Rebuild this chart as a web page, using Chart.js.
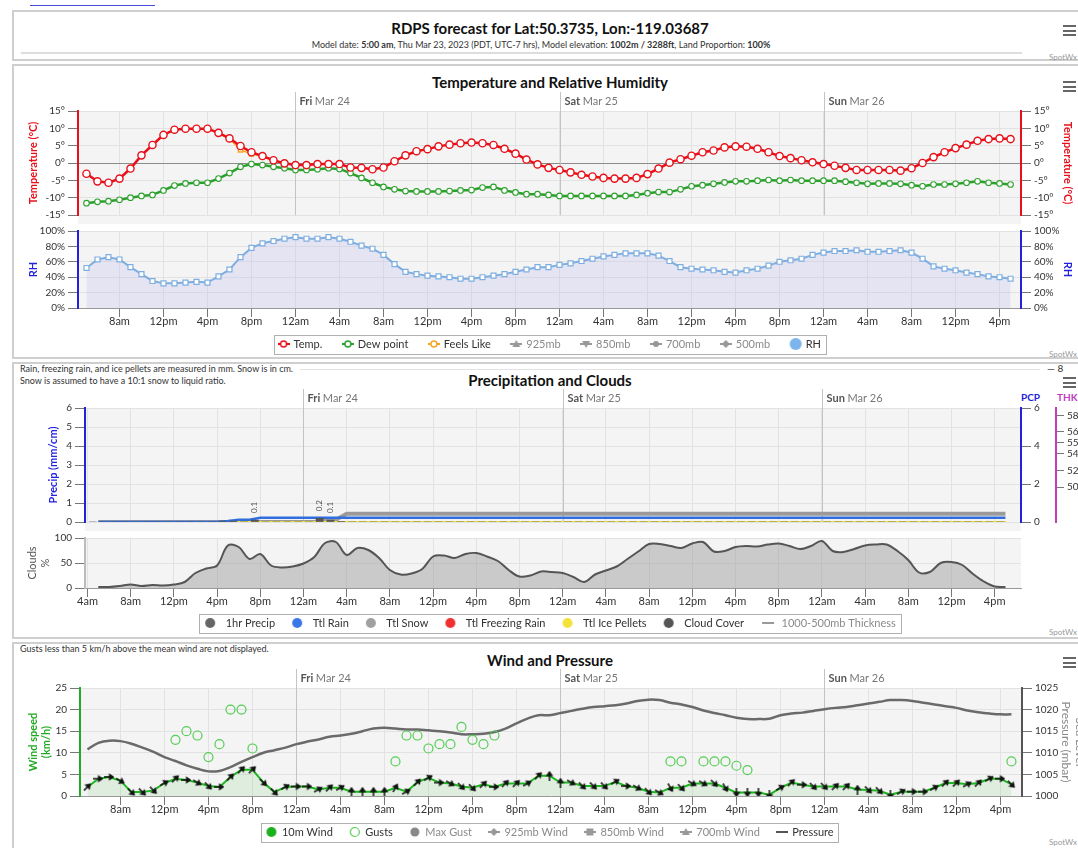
<!DOCTYPE html>
<html>
<head>
<meta charset="utf-8">
<script src="https://cdn.jsdelivr.net/npm/chart.js@4.4.1/dist/chart.umd.min.js"></script>
<style>
body{margin:0;background:#fff;font-family:Lato,"Open Sans",sans-serif;overflow:hidden}
#page{position:relative;width:1078px;height:848px;overflow:hidden}
.panel{position:absolute;left:12px;width:1090px;border:2px solid #cfcfcf;box-sizing:border-box;background:#fff}
canvas{position:absolute;left:0}
.t{position:absolute;white-space:nowrap}
.ttl{left:0;width:1100px;text-align:center;font-weight:bold;font-size:15px;line-height:18px;color:#111}
.menu{position:absolute;left:1063px;width:13px;height:11px;border-top:2px solid #666;border-bottom:2px solid #666;box-sizing:border-box}
.menu:after{content:'';position:absolute;left:0;right:0;top:2.5px;height:2px;background:#666}
.credit{position:absolute;left:1049px;font-size:8px;color:#999}
.note{position:absolute;left:20px;font-size:9px;line-height:11px;color:#333}
</style>
</head>
<body>
<div id="page">
  <div style="position:absolute;left:30px;top:5px;width:125px;height:1px;background:#4a4adf"></div>
  <div class="panel" style="top:10px;height:51px"></div>
  <div class="panel" style="top:64px;height:295px"></div>
  <div class="panel" style="top:362px;height:277px"></div>
  <div class="panel" style="top:642px;height:210px"></div>

  <div class="t ttl" style="top:19px">RDPS forecast for Lat:50.3735, Lon:-119.03687</div>
  <div class="t" style="left:0;width:1082px;text-align:center;top:39px;font-size:9px;line-height:11px;color:#333">Model date: <b>5:00 am</b>, Thu Mar 23, 2023 (PDT, UTC-7 hrs), Model elevation: <b>1002m / 3288ft</b>, Land Proportion: <b>100%</b></div>
  <div style="position:absolute;left:21px;top:52px;width:1001px;height:2px;background:#ddd"></div>
  <div class="menu" style="top:25px"></div>
  <div class="credit" style="top:52px">SpotWx</div>

  <div class="t ttl" style="top:73px">Temperature and Relative Humidity</div>
  <div class="menu" style="top:81px"></div>
  <div class="credit" style="top:349px">SpotWx</div>

  <div class="note" style="top:363px">Rain, freezing rain, and ice pellets are measured in mm. Snow is in cm.</div>
  <div class="note" style="top:375px">Snow is assumed to have a 10:1 snow to liquid ratio.</div>
  <div style="position:absolute;left:300px;top:369px;width:740px;height:1px;background:#e2e2e2"></div>
  <div class="t" style="left:1047px;top:362px;font-size:10px;line-height:12px;color:#333">&#8212; 8</div>
  <div class="t ttl" style="top:371px">Precipitation and Clouds</div>
  <div class="menu" style="top:377px"></div>
  <div class="t" style="left:1021px;top:391px;font-size:10px;line-height:12px;font-weight:bold;color:#2222dd">PCP</div>
  <div class="t" style="left:1057px;top:391px;font-size:10px;line-height:12px;font-weight:bold;color:#c03cc0">THK</div>
  <div class="credit" style="top:627px">SpotWx</div>

  <div class="note" style="top:643px">Gusts less than 5 km/h above the mean wind are not displayed.</div>
  <div class="t ttl" style="top:651px">Wind and Pressure</div>
  <div class="menu" style="top:657px"></div>
  <div class="credit" style="top:837px">SpotWx</div>

  <canvas id="cTemp" width="1100" height="138" style="top:86px"></canvas>
  <canvas id="cRh" width="1100" height="150" style="top:222px"></canvas>
  <canvas id="cPcp" width="1100" height="147" style="top:384px"></canvas>
  <canvas id="cCloud" width="1100" height="119" style="top:528px"></canvas>
  <canvas id="cWind" width="1100" height="192" style="top:664px"></canvas>
</div>
<script>
// hourly steps, 5am Thu Mar 23 to 5pm Sun Mar 26 (PDT)
const tickLabels = ['4am','8am','12pm','4pm','8pm','12am','4am','8am','12pm','4pm','8pm','12am','4am','8am','12pm','4pm','8pm','12am','4am','8am','12pm','4pm'];
const dayNames = ['Fri', 'Sat', 'Sun'];
const dayDates = ['Mar 24', 'Mar 25', 'Mar 26'];
const dayHours = [19, 43, 67];

const temp = [-3.1,-5.3,-5.7,-4.5,-1.6,2.2,5.2,8.1,9.6,9.9, 9.9,9.9,8.7,7.1,4.9,3.1,2.0,0.8,-0.1,-0.6,
  -0.6,-0.3,-0.3,-0.3,-1.3,-1.4,-1.8,-1.3,0.5,2.2, 3.4,4.0,4.8,5.3,5.7,5.9,5.7,5.2,4.1,2.7,
  1.0,-0.4,-1.4,-2.0,-2.7,-3.4,-3.9,-4.3,-4.5,-4.5, -4.3,-3.2,-1.6,0.1,1.1,2.1,3.1,3.6,4.5,4.8,
  4.7,4.1,3.1,2.0,1.4,0.8,0.2,-0.3,-0.8,-1.4, -2.0,-2.0,-2.0,-2.0,-2.2,-1.5,0.0,1.7,3.1,4.3,
  5.3,6.4,6.9,7.1,6.9];
const dewPoint = [-11.6,-11.2,-11.0,-10.6,-10.0,-9.5,-9.2,-7.9,-6.5,-5.9, -5.7,-5.7,-4.5,-2.9,-1.1,-0.3,-0.6,-1.1,-1.5,-2.0,
  -2.0,-1.8,-1.5,-1.7,-2.9,-4.3,-5.7,-6.9,-7.6,-8.1, -8.2,-8.2,-8.2,-8.1,-7.9,-7.8,-7.1,-6.9,-7.9,-8.5,
  -9.0,-9.0,-9.2,-9.5,-9.5,-9.5,-9.5,-9.5,-9.5,-9.5, -9.2,-8.7,-8.4,-8.4,-7.6,-6.7,-6.4,-6.0,-5.6,-5.3,
  -5.3,-5.1,-4.9,-5.1,-4.9,-5.1,-5.1,-5.1,-5.1,-5.4, -5.7,-6.0,-5.9,-5.9,-6.0,-6.4,-6.7,-6.2,-6.2,-6.0,
  -5.7,-5.3,-5.7,-5.9,-6.2];
const feelsLike = [-3.1,-5.3,-5.7,-4.5,-1.6,2.2,5.2,8.1,9.6,9.9, 9.9,9.9,8.7,7.0,3.8,2.6,2.0,0.8,-0.1,-0.6,
  -0.6,-0.3,-0.3,-0.3,-1.3,-1.4,-1.8,-1.3,0.5,2.2, 3.4,4.0,4.8,5.3,5.7,5.9,5.7,5.2,4.1,2.7,
  1.0,-0.4,-1.4,-2.0,-2.7,-3.4,-3.9,-4.3,-4.5,-4.5, -4.3,-3.2,-1.6,0.1,1.1,2.1,3.1,3.6,4.5,4.8,
  4.7,4.1,3.1,2.0,1.4,0.8,0.2,-0.3,-0.8,-1.4, -2.0,-2.0,-2.0,-2.0,-2.2,-1.5,0.0,1.7,3.1,4.3,
  5.3,6.4,6.9,7.1,6.9];
const rh = [52,63,66,63,53,44,35,32,32,33, 34,33,41,50,66,78,84,87,90,92,
  90,90,92,90,86,81,77,69,57,47, 44,42,41,40,38,38,40,42,44,47,
  50,53,53,56,58,61,64,67,69,71, 71,71,68,61,53,51,50,49,47,46,
  49,51,55,60,62,64,69,72,74,74, 75,73,73,74,75,72,64,54,51,49,
  46,44,41,40,38];

const pcp1h = [0,0,0,0,0,0,0,0,0,0, 0,0,0.05,0.05,0,0.1,0,0,0,0,
  0,0.2,0.1,0.03,0,0,0,0,0,0, 0,0,0,0,0,0,0,0,0,0,
  0,0,0,0,0,0,0,0,0,0, 0,0,0,0,0,0,0,0,0,0,
  0,0,0,0,0,0,0,0,0,0, 0,0,0,0,0,0,0,0,0,0,
  0,0,0,0,0];
const ttlRain = [0,0,0,0,0,0,0,0,0,0, 0,0,0.05,0.12,0.12,0.22,0.22,0.22,0.22,0.22,
  0.22,0.22,0.22,0.22,0.22,0.22,0.22,0.22,0.22,0.22, 0.22,0.22,0.22,0.22,0.22,0.22,0.22,0.22,0.22,0.22,
  0.22,0.22,0.22,0.22,0.22,0.22,0.22,0.22,0.22,0.22, 0.22,0.22,0.22,0.22,0.22,0.22,0.22,0.22,0.22,0.22,
  0.22,0.22,0.22,0.22,0.22,0.22,0.22,0.22,0.22,0.22, 0.22,0.22,0.22,0.22,0.22,0.22,0.22,0.22,0.22,0.22,
  0.22,0.22,0.22,0.22,0.22];
const ttlSnow = [0,0,0,0,0,0,0,0,0,0, 0,0,0,0,0,0,0,0,0,0,
  0,0.12,0.12,0.43,0.43,0.43,0.43,0.43,0.43,0.43, 0.43,0.43,0.43,0.43,0.43,0.43,0.43,0.43,0.43,0.43,
  0.43,0.43,0.43,0.43,0.43,0.43,0.43,0.43,0.43,0.43, 0.43,0.43,0.43,0.43,0.43,0.43,0.43,0.43,0.43,0.43,
  0.43,0.43,0.43,0.43,0.43,0.43,0.43,0.43,0.43,0.43, 0.43,0.43,0.43,0.43,0.43,0.43,0.43,0.43,0.43,0.43,
  0.43,0.43,0.43,0.43,0.43];
const ttlFreezing = [0,0,0,0,0,0,0,0,0,0, 0,0,0,0,0,0,0,0,0,0, 0,0,0,0,0,0,0,0,0,0, 0,0,0,0,0,0,0,0,0,0,
  0,0,0,0,0,0,0,0,0,0, 0,0,0,0,0,0,0,0,0,0, 0,0,0,0,0,0,0,0,0,0, 0,0,0,0,0,0,0,0,0,0, 0,0,0,0,0];
const ttlIce = [0,0,0,0,0,0,0,0,0,0, 0,0,0,0,0,0,0,0,0,0, 0,0,0,0,0,0,0,0,0,0, 0,0,0,0,0,0,0,0,0,0,
  0,0,0,0,0,0,0,0,0,0, 0,0,0,0,0,0,0,0,0,0, 0,0,0,0,0,0,0,0,0,0, 0,0,0,0,0,0,0,0,0,0, 0,0,0,0,0];
const cloudCover = [2,2,4,7,4,6,5,7,12,30, 39,45,85,82,58,68,45,41,43,49,
  62,90,92,66,80,76,60,36,27,29, 38,63,65,60,68,70,63,54,36,23,
  25,33,32,30,22,12,27,35,43,58, 73,88,88,84,80,89,92,73,74,82,
  84,83,87,89,84,78,84,94,74,72, 78,85,87,87,74,56,31,32,50,52,
  46,28,13,3,2];
const thkTicks = [504, 522, 540, 552, 564, 582];

const wind10m = [2.1,4.0,4.4,3.5,0.9,0.9,1.3,3.0,4.0,3.7, 3.1,2.3,2.1,4.4,6.1,6.1,3.1,0.9,2.1,2.2,
  2.2,1.5,1.9,1.9,1.0,1.0,1.0,1.0,1.9,1.0, 3.2,4.2,3.1,2.9,2.2,1.9,2.7,2.1,2.9,2.9,
  2.9,4.7,4.7,3.1,3.1,2.3,2.3,2.3,3.3,2.3, 1.9,1.0,0.8,1.9,1.9,2.9,2.9,2.9,1.9,0.8,
  0.8,0.8,0.3,1.9,3.1,2.6,2.2,2.2,2.2,2.2, 1.5,1.4,1.2,0.3,1.0,1.0,1.0,1.9,3.0,3.0,
  2.7,3.0,4.0,4.0,2.7];
const windDir = [45,90,90,120,135,135,135,60,45,90, 120,135,90,45,45,45,135,135,60,90,
  90,60,45,60,0,0,0,0,30,60, 45,60,90,120,135,135,45,90,45,45,
  60,45,0,0,120,135,135,135,60,90, 120,135,120,150,135,120,120,135,150,180,
  180,180,180,60,45,90,135,135,45,45, 0,135,135,180,60,90,90,60,45,45,
  60,45,60,90,135];
const gusts = [null,null,null,null,null,null,null,null,13,15, 14,9,12,20,20,11,null,null,null,null,
  null,null,null,null,null,null,null,null,8,14, 14,11,12,12,16,13,12,14,null,null,
  null,null,null,null,null,null,null,null,null,null, null,null,null,8,8,null,8,8,8,7,
  6,null,null,null,null,null,null,null,null,null, null,null,null,null,null,null,null,null,null,null,
  null,null,null,null,8];
const pressure = [1010.8,1012.3,1012.8,1012.7,1012.1,1011.2,1010.2,1009.0,1008.1,1007.1,
  1006.3,1005.7,1005.8,1006.7,1007.9,1009.0,1010.0,1010.6,1011.2,1012.0,
  1012.6,1013.1,1013.7,1014.0,1014.4,1015.0,1015.6,1015.8,1015.6,1015.4,
  1015.4,1015.2,1015.0,1014.7,1014.3,1014.3,1014.4,1014.8,1015.6,1016.8,
  1017.9,1018.7,1018.7,1019.2,1019.7,1020.2,1020.6,1020.8,1021.0,1021.4,
  1022.0,1022.3,1022.2,1021.6,1021.2,1020.6,1019.8,1019.2,1018.7,1018.1,
  1017.8,1017.8,1017.9,1018.7,1019.1,1019.3,1019.7,1020.1,1020.4,1020.6,
  1021.0,1021.4,1021.8,1022.2,1022.2,1022.0,1021.6,1021.2,1020.8,1020.4,
  1019.8,1019.4,1019.1,1018.9,1018.9];

const RED = '#e8101a', BLUE = '#2222dd', GREEN = '#2ca02c', FONT = 'Lato, "Open Sans", sans-serif';
Chart.defaults.font.family = FONT;
Chart.defaults.color = '#333';

const xy = arr => arr.map((v, i) => ({x: i, y: v}));

// ---- small canvases used as point / legend symbols
function sym(w, h, draw) {
  const c = document.createElement('canvas');
  c.width = w; c.height = h;
  draw(c.getContext('2d'), w, h);
  return c;
}
const mk = {
  ring: (g, x, y, c) => { g.fillStyle = '#fff'; g.strokeStyle = c; g.lineWidth = 1.5; g.beginPath(); g.arc(x, y, 3, 0, 7); g.fill(); g.stroke(); },
  dot: (g, x, y, c) => { g.fillStyle = c; g.beginPath(); g.arc(x, y, 3, 0, 7); g.fill(); },
  tri: (g, x, y, c) => { g.fillStyle = c; g.beginPath(); g.moveTo(x, y - 4); g.lineTo(x + 4, y + 3); g.lineTo(x - 4, y + 3); g.fill(); },
  triDown: (g, x, y, c) => { g.fillStyle = c; g.beginPath(); g.moveTo(x, y + 4); g.lineTo(x + 4, y - 3); g.lineTo(x - 4, y - 3); g.fill(); },
  diamond: (g, x, y, c) => { g.fillStyle = c; g.beginPath(); g.moveTo(x, y - 4); g.lineTo(x + 4, y); g.lineTo(x, y + 4); g.lineTo(x - 4, y); g.fill(); },
  square: (g, x, y, c) => { g.fillStyle = c; g.fillRect(x - 3.5, y - 3.5, 7, 7); }
};
const lineSym = (color, marker) => sym(12, 12, (g, W) => {
  g.strokeStyle = color; g.lineWidth = 2;
  g.beginPath(); g.moveTo(0, 6); g.lineTo(W, 6); g.stroke();
  if (marker) marker(g, W / 2, 6, color);
});
const circleSym = (w, cx, color, r, hollow) => sym(w, 12, g => {
  g.beginPath(); g.arc(cx, 6, r, 0, 7);
  if (hollow) { g.strokeStyle = color; g.lineWidth = 1.2; g.stroke(); }
  else { g.fillStyle = color; g.fill(); }
});
const arrow = sym(10, 10, g => {
  g.strokeStyle = '#111'; g.fillStyle = '#111'; g.lineWidth = 1.5;
  g.beginPath(); g.moveTo(5, 10); g.lineTo(5, 4); g.stroke();
  g.beginPath(); g.moveTo(5, 0); g.lineTo(1.2, 5.5); g.lineTo(8.8, 5.5); g.closePath(); g.fill();
});

const DARK = '#333', DIM = '#8a8a8a';
const tempLegend = [
  ['Temp.', lineSym(RED, mk.ring), DARK],
  ['Dew point', lineSym(GREEN, mk.ring), DARK],
  ['Feels Like', lineSym('#f5a623', mk.ring), DARK],
  ['925mb', lineSym('#999', mk.tri), DIM],
  ['850mb', lineSym('#999', mk.triDown), DIM],
  ['700mb', lineSym('#999', mk.dot), DIM],
  ['500mb', lineSym('#999', mk.diamond), DIM],
  ['RH', circleSym(14, 7, '#7cb5ec', 6), DARK]
];
const pcpLegend = [
  ['1hr Precip', circleSym(16, 6, '#666', 5), DARK],
  ['Ttl Rain', circleSym(16, 6, '#3a78e8', 5), DARK],
  ['Ttl Snow', circleSym(16, 6, '#a0a0a0', 5), DARK],
  ['Ttl Freezing Rain', circleSym(16, 6, '#f03030', 5), DARK],
  ['Ttl Ice Pellets', circleSym(16, 6, '#f2e23a', 5), DARK],
  ['Cloud Cover', circleSym(16, 6, '#555', 5), DARK],
  ['1000-500mb Thickness', sym(16, 12, g => { g.strokeStyle = '#999'; g.lineWidth = 2; g.beginPath(); g.moveTo(2, 6); g.lineTo(14, 6); g.stroke(); }), DIM]
];
const windLegend = [
  ['10m Wind', circleSym(12, 6, '#1db01d', 5), DARK],
  ['Gusts', circleSym(12, 6, '#55cc55', 4.5, true), DARK],
  ['Max Gust', circleSym(12, 6, '#888', 4.5), DIM],
  ['925mb Wind', lineSym('#999', mk.diamond), DIM],
  ['850mb Wind', lineSym('#999', mk.square), DIM],
  ['700mb Wind', lineSym('#999', mk.tri), DIM],
  ['Pressure', lineSym('#555', null), DARK]
];
const legendOpts = (items, padding, boxW) => ({
  display: true, position: 'bottom', onClick: () => {},
  labels: {
    usePointStyle: true, pointStyleWidth: boxW, padding, font: {size: 11},
    generateLabels: () => items.map(([text, ps, col]) => ({
      text, pointStyle: ps, fontColor: col, fillStyle: 'transparent', strokeStyle: 'transparent', lineWidth: 0, hidden: false
    }))
  }
});

// ---- plugins
const plotBg = {
  id: 'plotBg',
  beforeDraw(chart, args, o) {
    const {ctx, chartArea: a} = chart;
    ctx.save();
    ctx.fillStyle = '#f4f4f4';
    ctx.fillRect(a.left, a.top, a.right - a.left, a.bottom - a.top + (o.ext || 0));
    ctx.strokeStyle = o.topLine || '#dcdcdc'; ctx.lineWidth = 1;
    ctx.beginPath(); ctx.moveTo(a.left, Math.round(a.top) + 0.5); ctx.lineTo(a.right, Math.round(a.top) + 0.5); ctx.stroke();
    ctx.restore();
  }
};
const days = {
  id: 'days',
  beforeDatasetsDraw(chart) {
    const {ctx, chartArea: a, scales: {x}} = chart;
    ctx.save();
    ctx.textBaseline = 'middle';
    dayHours.forEach((h, i) => {
      const px = Math.round(x.getPixelForValue(h)) + 0.5;
      ctx.strokeStyle = '#c4c4c4'; ctx.lineWidth = 1;
      ctx.beginPath(); ctx.moveTo(px, a.top - 19); ctx.lineTo(px, a.bottom); ctx.stroke();
      ctx.font = 'bold 11px ' + FONT; ctx.fillStyle = '#555';
      ctx.fillText(dayNames[i], px + 4, a.top - 10);
      const w = ctx.measureText(dayNames[i] + ' ').width;
      ctx.font = '11px ' + FONT; ctx.fillStyle = '#777';
      ctx.fillText(dayDates[i], px + 4 + w, a.top - 10);
    });
    ctx.restore();
  }
};
// move the legend up under the axis labels, then frame it
const legendShift = {
  id: 'legendShift',
  afterLayout(chart, args, o) {
    const lg = chart.legend;
    if (lg && o.dy) { lg.top += o.dy; lg.bottom += o.dy; }
  }
};
const legendFrame = {
  id: 'legendFrame',
  afterDraw(chart) {
    const lg = chart.legend;
    if (!lg || !lg.options.display || !lg.legendHitBoxes.length) return;
    const hb = lg.legendHitBoxes, ctx = chart.ctx;
    const l = Math.min(...hb.map(b => b.left)) - 5;
    const r = Math.max(...hb.map(b => b.left + b.width)) + 5;
    const t = hb[0].top - 4, b = hb[0].top + hb[0].height + 4;
    ctx.save(); ctx.strokeStyle = '#b0b0b0'; ctx.lineWidth = 1;
    ctx.strokeRect(Math.round(l) + 0.5, Math.round(t) + 0.5, Math.round(r - l), Math.round(b - t));
    ctx.restore();
  }
};
const pcpLabels = {
  id: 'pcpLabels',
  afterDatasetsDraw(chart) {
    const {ctx, scales: {x, y}} = chart;
    ctx.save(); ctx.font = '8px ' + FONT; ctx.fillStyle = '#555'; ctx.textBaseline = 'middle';
    pcp1h.forEach((v, i) => {
      if (v < 0.1) return;
      ctx.save();
      ctx.translate(x.getPixelForValue(i - 0.5), y.getPixelForValue(v) - 7);
      ctx.rotate(-Math.PI / 2);
      ctx.fillText(v.toFixed(1), 0, 0);
      ctx.restore();
    });
    ctx.restore();
  }
};

// ---- axis helpers
function timeAxis(min, max, first, shown) {
  return {
    type: 'linear', min, max, offset: false,
    afterBuildTicks: s => { s.ticks = tickLabels.slice(first).map((t, i) => ({value: -1 + 4 * (i + first)})); },
    afterFit: s => { s.height = shown ? 22 : 0; },
    ticks: {display: shown, callback: v => tickLabels[Math.round((v + 1) / 4)], color: '#333', font: {size: 11}, padding: -2, maxRotation: 0, autoSkip: false},
    grid: {offset: false, color: '#e2e2e2', drawTicks: shown, tickColor: '#777', tickLength: 9},
    border: {display: shown, color: '#999'}
  };
}
function yAxis(o) {
  return {
    type: 'linear', position: o.pos, min: o.min, max: o.max,
    afterBuildTicks: s => { if (o.ticks) s.ticks = o.ticks.map(v => ({value: v})); },
    afterFit: s => { s.width = o.w; },
    ticks: {display: o.noTicks ? false : true, stepSize: o.step, callback: o.fmt || (v => String(v)), color: '#333', font: {size: 10}, padding: 3, autoSkip: false},
    grid: {display: !o.noTicks, drawOnChartArea: !!o.grid, color: o.gridColor || '#e2e2e2', tickColor: '#777', tickLength: o.tl || 10},
    border: {display: !o.noTicks, color: o.color, width: 2},
    title: {display: !!o.title, text: o.title, color: o.tcolor || o.color, font: {size: o.tsize || 11, weight: o.tweight || 'bold'}, padding: {top: o.tp || 0, bottom: 0}}
  };
}
const base = {responsive: false, animation: false, devicePixelRatio: 1, events: []};
const deg = v => v + '°';
const pct = v => v + '%';

// ---- temperature
new Chart(document.getElementById('cTemp'), {
  type: 'line',
  data: {datasets: [
    {label: 'Temp.', data: xy(temp), borderColor: RED, borderWidth: 2.5, pointRadius: 3.6, pointBackgroundColor: '#fff', pointBorderColor: RED, pointBorderWidth: 1.4, yAxisID: 'y'},
    {label: 'Dew point', data: xy(dewPoint), borderColor: GREEN, borderWidth: 2.5, pointRadius: 2.8, pointBackgroundColor: '#fff', pointBorderColor: GREEN, pointBorderWidth: 1.1, yAxisID: 'y'},
    {label: 'Feels Like', data: xy(feelsLike), borderColor: '#f5a623', borderWidth: 1.5, pointStyle: 'rect', pointRadius: 3, pointBackgroundColor: '#fff', pointBorderColor: '#f5a623', yAxisID: 'y'}
  ]},
  options: Object.assign({}, base, {
    layout: {padding: {top: 25, bottom: 6, left: 0, right: 0}},
    scales: {
      x: timeAxis(-0.77, 84.95, 1, false),
      y: yAxis({pos: 'left', min: -15, max: 15, step: 5, fmt: deg, color: RED, title: 'Temperature (°C)', tp: 26.4, w: 78, grid: true,
        gridColor: c => (c.tick && c.tick.value === 0 ? '#8c8c8c' : '#e2e2e2')}),
      y2: yAxis({pos: 'right', min: -15, max: 15, step: 5, fmt: deg, color: RED, title: 'Temperature (°C)', tp: 25.4, w: 79})
    },
    plugins: {legend: {display: false}, tooltip: {enabled: false}, plotBg: {ext: 10}}
  }),
  plugins: [plotBg, days]
});

// ---- relative humidity
new Chart(document.getElementById('cRh'), {
  type: 'line',
  data: {datasets: [
    {label: 'RH', data: xy(rh), borderColor: '#7eaee0', borderWidth: 2, fill: 'origin', backgroundColor: 'rgba(185,185,240,0.28)',
      pointStyle: 'rect', pointRadius: 3.5, pointBackgroundColor: '#fff', pointBorderColor: '#7eaee0', pointBorderWidth: 1.2, yAxisID: 'y'}
  ]},
  options: Object.assign({}, base, {
    layout: {padding: {top: 6, bottom: 0, left: 0, right: 0}},
    scales: {
      x: timeAxis(-0.77, 84.95, 1, true),
      y: yAxis({pos: 'left', min: 0, max: 100, step: 20, fmt: pct, color: BLUE, title: 'RH', tp: 26.4, w: 78, grid: true}),
      y2: yAxis({pos: 'right', min: 0, max: 100, step: 20, fmt: pct, color: BLUE, title: 'RH', tp: 25.4, w: 79})
    },
    plugins: {legend: legendOpts(tempLegend, 21, 9), legendShift: {dy: -12.5}, tooltip: {enabled: false}, plotBg: {topLine: '#9a9a9a'}}
  }),
  plugins: [plotBg, legendShift, legendFrame]
});

// ---- precipitation
new Chart(document.getElementById('cPcp'), {
  type: 'line',
  data: {datasets: [
    {type: 'bar', label: '1hr Precip', data: pcp1h.map((v, i) => ({x: i - 0.5, y: v})), backgroundColor: '#555', barThickness: 7, yAxisID: 'y'},
    {label: 'Ttl Rain', data: xy(ttlRain), borderColor: '#2f6de0', borderWidth: 2.5, pointRadius: 0, yAxisID: 'y'},
    {label: 'Ttl Ice Pellets', data: xy(ttlIce), borderColor: '#eedd44', borderWidth: 2, pointRadius: 0, yAxisID: 'y'},
    {label: 'Ttl Freezing Rain', data: xy(ttlFreezing), borderColor: '#f03030', borderWidth: 2, pointRadius: 0, yAxisID: 'y'},
    {label: 'Ttl Snow', data: xy(ttlSnow), borderColor: '#9a9a9a', borderWidth: 4, pointRadius: 0, yAxisID: 'y'}
  ]},
  options: Object.assign({}, base, {
    layout: {padding: {top: 24, bottom: 6, left: 0, right: 0}},
    scales: {
      x: timeAxis(-1.23, 85.44, 0, false),
      y: yAxis({pos: 'left', min: 0, max: 6, step: 1, color: BLUE, title: 'Precip (mm/cm)', tp: 46.4, w: 85, grid: true}),
      pcp: yAxis({pos: 'right', min: 0, max: 6, step: 2, color: BLUE, w: 35}),
      thk: yAxis({pos: 'right', min: 466, max: 590, ticks: thkTicks, color: '#c03cc0', w: 44, tl: 8})
    },
    plugins: {legend: {display: false}, tooltip: {enabled: false}, plotBg: {ext: 13}}
  }),
  plugins: [plotBg, days, pcpLabels]
});

// ---- cloud cover
new Chart(document.getElementById('cCloud'), {
  type: 'line',
  data: {datasets: [
    {label: 'Cloud Cover', data: xy(cloudCover), borderColor: '#555', borderWidth: 2, fill: 'origin', backgroundColor: 'rgba(150,150,150,0.45)',
      tension: 0.35, pointRadius: 0, yAxisID: 'y'}
  ]},
  options: Object.assign({}, base, {
    layout: {padding: {top: 10, bottom: 0, left: 0, right: 0}},
    scales: {
      x: timeAxis(-1.23, 85.44, 0, true),
      y: yAxis({pos: 'left', min: 0, max: 100, ticks: [0, 50, 100], color: '#bbb', title: ['Clouds', '%'], tcolor: '#555', tweight: 'normal', tp: 25.4, w: 85, grid: true}),
      y2: yAxis({pos: 'right', min: 0, max: 1, noTicks: true, w: 79})
    },
    plugins: {legend: legendOpts(pcpLegend, 16, 16), legendShift: {dy: -8.5}, tooltip: {enabled: false}}
  }),
  plugins: [plotBg, legendShift, legendFrame]
});

// ---- wind and pressure
new Chart(document.getElementById('cWind'), {
  type: 'line',
  data: {datasets: [
    {label: 'Gusts', data: xy(gusts), showLine: false, pointRadius: 4.5, pointBorderColor: '#55cc55', pointBackgroundColor: 'rgba(0,0,0,0)', pointBorderWidth: 1.2, yAxisID: 'y'},
    {label: '10m Wind', data: xy(wind10m), borderColor: '#1fb51f', borderWidth: 2, fill: 'origin', backgroundColor: 'rgba(90,200,90,0.14)',
      pointStyle: arrow, pointRadius: 4, pointRotation: c => windDir[c.dataIndex], yAxisID: 'y'},
    {label: 'Pressure', data: xy(pressure), borderColor: '#6a6a6a', borderWidth: 2.5, pointRadius: 0, tension: 0.4, yAxisID: 'p'}
  ]},
  options: Object.assign({}, base, {
    layout: {padding: {top: 24, bottom: 0, left: 0, right: 0}},
    scales: {
      x: timeAxis(-0.68, 84.96, 1, true),
      y: yAxis({pos: 'left', min: 0, max: 25, step: 5, color: '#22aa22', title: ['Wind speed', '(km/h)'], tp: 26.4, w: 80, grid: true}),
      p: yAxis({pos: 'right', min: 1000, max: 1025, step: 5, color: '#555', title: ['Sea Level', 'Pressure (mbar)'], tcolor: '#8a8a8a', tweight: 'normal', tsize: 12, tp: 12.8, w: 78})
    },
    plugins: {legend: legendOpts(windLegend, 17, 10), legendShift: {dy: -8.5}, tooltip: {enabled: false}}
  }),
  plugins: [plotBg, days, legendShift, legendFrame]
});
</script>
</body>
</html>
